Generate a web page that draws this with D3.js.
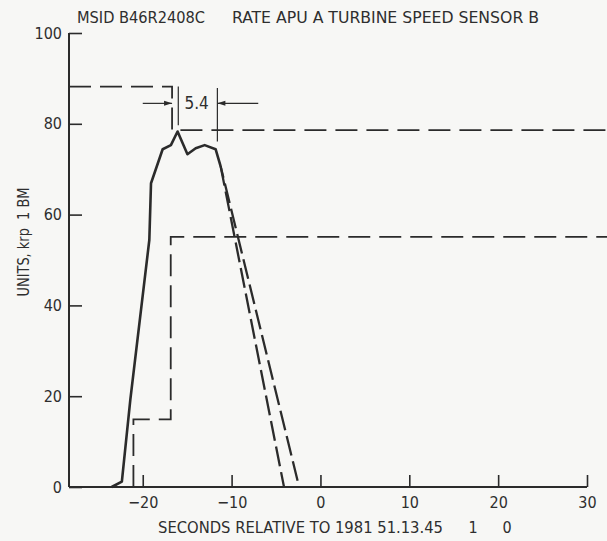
<!DOCTYPE html>
<html>
<head>
<meta charset="utf-8">
<script src="https://cdn.jsdelivr.net/npm/d3@7/dist/d3.min.js"></script>
<style>
  html, body { margin: 0; padding: 0; background: #f7f7f5; }
  svg { display: block; }
  text { font-family: "Liberation Sans Narrow", "DejaVu Sans Condensed", "Roboto Condensed", "Arial Narrow", sans-serif; fill: #2e2e2e; }
</style>
</head>
<body>
<svg id="chart" width="607" height="541"></svg>
<script>
// ---- data ----
const xTicks = [-20, -10, 0, 10, 20, 30];
const yTicks = [0, 20, 40, 60, 80, 100];

// measured turbine speed (solid)
const speedX = [-23.5, -22.35, -21.4, -19.26, -19.07, -17.76, -16.83, -16.08, -14.97, -14.04, -13.03, -11.8, -11.24];
const speedY = [0, 1.2, 19.2, 54.4, 66.9, 74.4, 75.3, 78.3, 73.3, 74.6, 75.3, 74.4, 70.7];

// two dashed decay lines
const decayAX = [-11.24, -4.1];
const decayAY = [70.7, 0];
const decayBX = [-11.24, -2.4];
const decayBY = [70.7, 0];

// upper dashed step limit
const upperX = [-28.3, -16.7, -16.7, 32.3];
const upperY = [88.2, 88.2, 78.6, 78.6];

// lower dashed step limit
const lowerX = [-21.05, -21.05, -16.85, -16.85, 32.3];
const lowerY = [0, 14.9, 14.9, 55.1, 55.1];

// "5.4" annotation
const annLabel = "5.4";
const annArrowY = 84.5;
const annLeft = [-20.0, -16.7];   // arrow from, tip
const annRight = [-7.0, -11.6];   // arrow from, tip
const annBarLX = -16.0, annBarLY = [88.2, 79.7];
const annBarRX = -11.6, annBarRY = [87.9, 76.1];
const annTextX = -13.94;

const titleLeft = "MSID B46R2408C";
const titleRight = "RATE APU A TURBINE SPEED SENSOR B";
const xTitle = "SECONDS RELATIVE TO 1981 51.13.45";
const xTitleExtra = ["1", "0"];
const yTitle = "UNITS, krp  1 BM";

// ---- drawing ----
const svg = d3.select("#chart");
const ink = "#2b2b2b";

const x = d3.scaleLinear().domain([-28.3, 30]).range([69, 587]);
const y = d3.scaleLinear().domain([0, 100]).range([487, 33]);

const line = d3.line().x(d => x(d[0])).y(d => y(d[1]));
const zip = (a, b) => a.map((v, i) => [v, b[i]]);

// axes
const xAxis = d3.axisBottom(x).tickValues(xTicks).tickSize(-12).tickPadding(20).tickFormat(d3.format("d"));
const gx = svg.append("g").attr("transform", `translate(0,${y(0)})`).call(xAxis);
gx.select(".domain").attr("d", `M${x(-28.3)},0H${x(30)}`).attr("stroke", ink).attr("stroke-width", 2);
gx.selectAll(".tick line").attr("stroke", ink).attr("stroke-width", 1.6);
gx.selectAll(".tick text").attr("font-size", 16).attr("fill", "#2e2e2e")
  .attr("font-family", null).attr("dy", "0.35em").attr("y", 15);

const yAxis = d3.axisLeft(y).tickValues(yTicks).tickSize(-13).tickPadding(20).tickFormat(d3.format("d"));
const gy = svg.append("g").attr("transform", `translate(${x(-28.3)},0)`).call(yAxis);
gy.select(".domain").attr("d", `M0,${y(0)}V${y(100)}`).attr("stroke", ink).attr("stroke-width", 2);
gy.selectAll(".tick line").attr("stroke", ink).attr("stroke-width", 1.6);
gy.selectAll(".tick text").attr("font-size", 16).attr("fill", "#2e2e2e")
  .attr("font-family", null).attr("x", -7);

// dashed step limits
svg.append("path").attr("d", line(zip(upperX, upperY)))
  .attr("fill", "none").attr("stroke", ink).attr("stroke-width", 1.8).attr("stroke-dasharray", "22,9");
svg.append("path").attr("d", line(zip(lowerX, lowerY)))
  .attr("fill", "none").attr("stroke", ink).attr("stroke-width", 1.8).attr("stroke-dasharray", "22,9");

// decay lines
svg.append("path").attr("d", line(zip(decayAX, decayAY)))
  .attr("fill", "none").attr("stroke", ink).attr("stroke-width", 2.3).attr("stroke-dasharray", "20,6");
svg.append("path").attr("d", line(zip(decayBX, decayBY)))
  .attr("fill", "none").attr("stroke", ink).attr("stroke-width", 2.3).attr("stroke-dasharray", "20,6").attr("stroke-dashoffset", 8);

// solid measured curve
svg.append("path").attr("d", line(zip(speedX, speedY)))
  .attr("fill", "none").attr("stroke", ink).attr("stroke-width", 2.6).attr("stroke-linejoin", "round");

// annotation
const ann = svg.append("g").attr("stroke", ink).attr("stroke-width", 1.2);
ann.append("line").attr("x1", x(annBarLX)).attr("x2", x(annBarLX)).attr("y1", y(annBarLY[0])).attr("y2", y(annBarLY[1]));
ann.append("line").attr("x1", x(annBarRX)).attr("x2", x(annBarRX)).attr("y1", y(annBarRY[0])).attr("y2", y(annBarRY[1]));
ann.append("line").attr("x1", x(annLeft[0])).attr("x2", x(annLeft[1])).attr("y1", y(annArrowY)).attr("y2", y(annArrowY));
ann.append("line").attr("x1", x(annRight[0])).attr("x2", x(annRight[1])).attr("y1", y(annArrowY)).attr("y2", y(annArrowY));
function head(tipX, dir) {
  const tx = x(tipX), ty = y(annArrowY);
  svg.append("path")
    .attr("d", `M${tx},${ty}L${tx - dir * 8},${ty - 2.5}L${tx - dir * 8},${ty + 2.5}Z`)
    .attr("fill", ink);
}
head(annLeft[1], 1);
head(annRight[1], -1);
svg.append("text").attr("x", x(annTextX)).attr("y", y(annArrowY)).attr("dy", "0.35em")
  .attr("text-anchor", "middle").attr("font-size", 17).text(annLabel);

// titles
svg.append("text").attr("x", 77).attr("y", 23).attr("font-size", 16)
  .attr("textLength", 128).attr("lengthAdjust", "spacingAndGlyphs").text(titleLeft);
svg.append("text").attr("x", 232).attr("y", 23).attr("font-size", 16)
  .attr("textLength", 307).attr("lengthAdjust", "spacingAndGlyphs").text(titleRight);

svg.append("text").attr("x", 158).attr("y", 533).attr("font-size", 16)
  .attr("textLength", 285).attr("lengthAdjust", "spacingAndGlyphs").text(xTitle);
svg.append("text").attr("x", 473).attr("y", 533).attr("font-size", 16).attr("text-anchor", "middle").text(xTitleExtra[0]);
svg.append("text").attr("x", 507).attr("y", 533).attr("font-size", 16).attr("text-anchor", "middle").text(xTitleExtra[1]);

svg.append("text").attr("transform", "translate(29,242) rotate(-90)")
  .attr("text-anchor", "middle").attr("font-size", 16).attr("xml:space", "preserve")
  .style("white-space", "pre")
  .attr("textLength", 109).attr("lengthAdjust", "spacingAndGlyphs").text(yTitle);
</script>
</body>
</html>
